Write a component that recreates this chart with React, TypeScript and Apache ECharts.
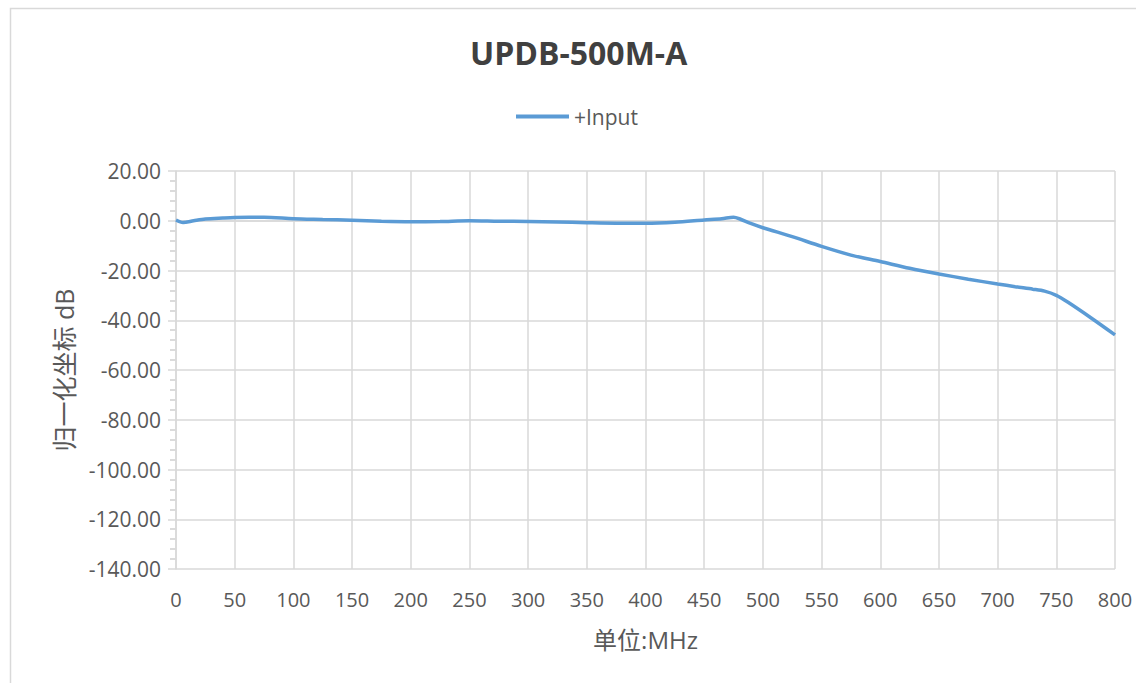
import React, { useEffect, useRef } from "react";
import * as echarts from "echarts";

const titleText = "UPDB-500M-A";
const seriesName = "+Input";
const xAxisName = "单位:MHz";
const yAxisName = "归一化坐标 dB";
const freqMHz = [0, 6, 15, 25, 40, 50, 75, 100, 125, 150, 175, 200, 225, 250, 275, 300, 325, 350, 375, 400, 425, 450, 465, 475, 480, 489, 500, 525, 550, 575, 600, 625, 650, 675, 700, 715, 730, 740, 750, 760, 780, 800];
const gainDb = [0.3, -0.7, 0.0, 0.7, 1.1, 1.3, 1.4, 0.8, 0.5, 0.2, -0.2, -0.4, -0.3, 0.0, -0.2, -0.3, -0.5, -0.8, -1.0, -1.0, -0.6, 0.3, 0.8, 1.4, 0.8, -1.0, -2.8, -6.4, -10.3, -13.8, -16.4, -19.1, -21.4, -23.5, -25.4, -26.5, -27.5, -28.3, -30.0, -32.8, -39.2, -45.9];

const FONT = "'Open Sans', 'Noto Sans CJK SC', sans-serif";
const GRID_COLOR = "#d9d9d9";
const TEXT_COLOR = "#595959";

export default function App() {
  const ref = useRef<HTMLDivElement>(null);
  useEffect(() => {
    if (!ref.current) return;
    const chart = echarts.init(ref.current, null, { renderer: "svg" });
    const data = freqMHz.map((f, i) => [f, gainDb[i]]);
    chart.setOption({
      animation: false,
      backgroundColor: "#ffffff",
      textStyle: { fontFamily: FONT },
      graphic: [
        {
          type: "rect",
          shape: { x: 10.5, y: 8.5, width: 1200, height: 800 },
          style: { fill: "none", stroke: GRID_COLOR, lineWidth: 1.5 },
          silent: true,
        },
      ],
      title: {
        text: titleText,
        left: 465,
        top: 31,
        textStyle: { fontFamily: FONT, fontSize: 32, fontWeight: "bold", color: "#404040" },
      },
      legend: {
        top: 101,
        left: 511,
        itemWidth: 53,
        itemHeight: 4,
        itemGap: 10,
        textStyle: { fontFamily: FONT, fontSize: 21, color: TEXT_COLOR },
        data: [{ name: seriesName, icon: "rect", itemStyle: { color: "#5b9bd5" } }],
      },
      grid: { left: 176, top: 171, right: 21, bottom: 114, containLabel: false },
      xAxis: {
        type: "value",
        min: 0,
        max: 800,
        interval: 50,
        name: xAxisName,
        nameLocation: "middle",
        nameGap: 58,
        nameTextStyle: { fontFamily: FONT, fontSize: 24, color: TEXT_COLOR },
        axisLine: { show: true, lineStyle: { color: GRID_COLOR, width: 1.5 } },
        axisTick: { show: false },
        axisLabel: { fontFamily: FONT, fontSize: 20, color: TEXT_COLOR, margin: 20 },
        splitLine: { show: true, lineStyle: { color: GRID_COLOR, width: 1.5 } },
      },
      yAxis: [
        {
          type: "value",
          min: -140,
          max: 20,
          interval: 20,
          name: yAxisName,
          nameLocation: "middle",
          nameGap: 100,
          nameTextStyle: { fontFamily: FONT, fontSize: 25, color: TEXT_COLOR },
          axisLine: { show: true, lineStyle: { color: GRID_COLOR, width: 1.5 } },
          axisTick: { show: true, length: 8, lineStyle: { color: GRID_COLOR, width: 1.5 } },
          minorTick: { show: true, splitNumber: 5, length: 6, lineStyle: { color: GRID_COLOR, width: 1.5 } },
          axisLabel: {
            fontFamily: FONT,
            fontSize: 21,
            color: TEXT_COLOR,
            margin: 15,
            formatter: (v: number) => v.toFixed(2),
          },
          splitLine: { show: true, lineStyle: { color: GRID_COLOR, width: 1.5 } },
        },
        {
          type: "value",
          min: -140,
          max: 20,
          interval: 20,
          position: "left",
          axisLine: { show: false },
          axisTick: { show: false },
          minorTick: { show: true, splitNumber: 5, length: 6, lineStyle: { color: GRID_COLOR, width: 1.5 } },
          axisLabel: { show: false, inside: true },
          splitLine: { show: false },
        },
      ],
      series: [
        {
          name: seriesName,
          type: "line",
          data,
          smooth: 0.3,
          showSymbol: false,
          symbol: "none",
          lineStyle: { color: "#5b9bd5", width: 3.5 },
          itemStyle: { color: "#5b9bd5" },
        },
      ],
    });
    return () => chart.dispose();
  }, []);
  return (
    <div
      ref={ref}
      style={{ position: "absolute", left: 0, top: 0, width: 1136, height: 683, background: "#fff" }}
    />
  );
}
